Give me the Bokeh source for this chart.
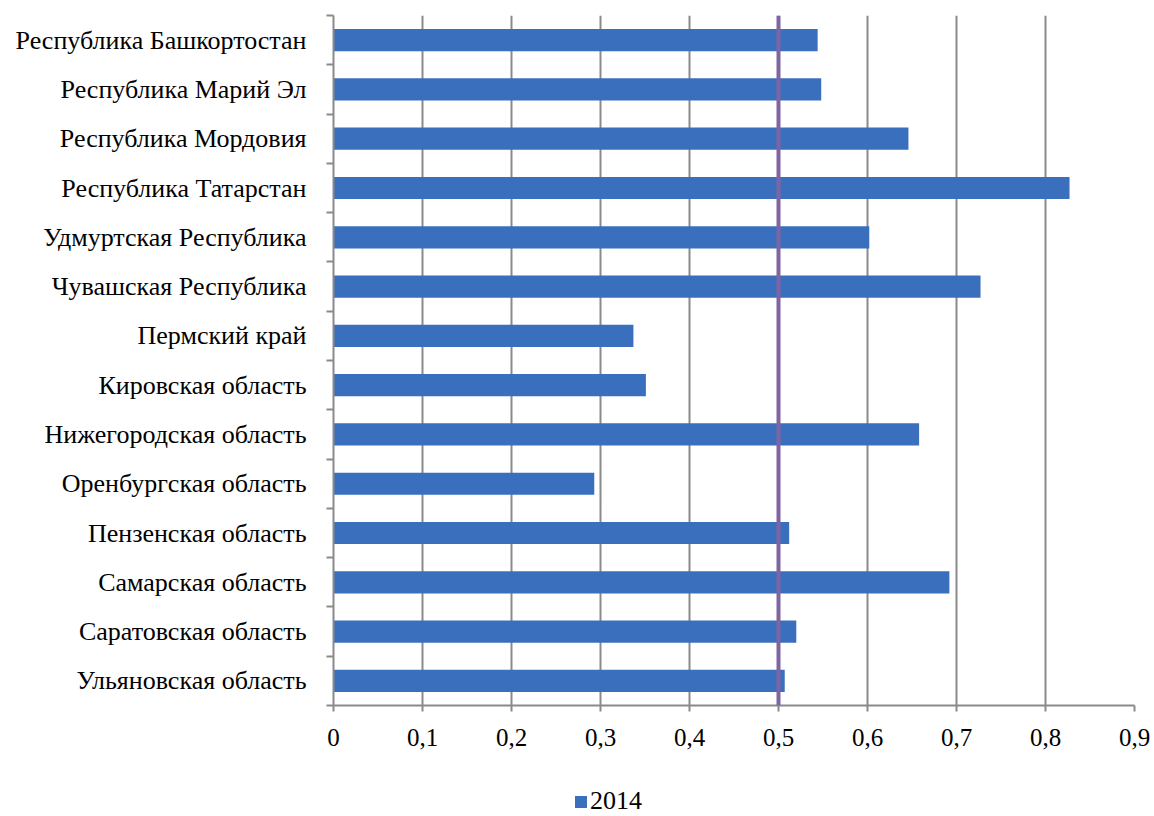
from bokeh.plotting import figure
from bokeh.layouts import column
from bokeh.models import (ColumnDataSource, FixedTicker, Span, Legend, LegendItem,
                          CustomJSTickFormatter)
from bokeh.embed import file_html
from bokeh.resources import INLINE

regions = [
    "Республика Башкортостан",
    "Республика Марий Эл",
    "Республика Мордовия",
    "Республика Татарстан",
    "Удмуртская Республика",
    "Чувашская Республика",
    "Пермский край",
    "Кировская область",
    "Нижегородская область",
    "Оренбургская область",
    "Пензенская область",
    "Самарская область",
    "Саратовская область",
    "Ульяновская область",
]
values_2014 = [0.544, 0.548, 0.646, 0.827, 0.602, 0.727, 0.337, 0.351,
               0.658, 0.293, 0.512, 0.692, 0.520, 0.507]
threshold = 0.5
x_ticks = [0, 0.1, 0.2, 0.3, 0.4, 0.5, 0.6, 0.7, 0.8, 0.9]
series_name = "2014"

n = len(regions)
ypos = [n - 1 - i for i in range(n)]
src = ColumnDataSource(dict(y=ypos, v=values_2014, name=regions))

FONT = "Liberation Serif"
GRAY = "#8a8a8a"
BLUE = "#3a6fbd"

p = figure(width=1154, height=760, output_backend="svg", toolbar_location=None,
           x_range=(0, 0.9), y_range=(-0.5, n - 0.5),
           min_border_left=333, min_border_right=20, min_border_top=15,
           min_border_bottom=55)
p.outline_line_color = None
p.background_fill_color = "white"

r = p.hbar(y="y", right="v", left=0, height=0.45, source=src,
           fill_color=BLUE, line_color=None)

p.add_layout(Span(location=threshold, dimension="height",
                  line_color="#8064a2", line_width=4))

# x axis
p.xaxis.ticker = FixedTicker(ticks=x_ticks)
p.xaxis.formatter = CustomJSTickFormatter(code="""
const s = (Math.round(tick*10)/10).toString();
return s.replace('.', ',');
""")
p.xaxis.axis_line_color = GRAY
p.xaxis.axis_line_width = 2
p.xaxis.major_tick_line_color = GRAY
p.xaxis.major_tick_line_width = 2
p.xaxis.major_tick_out = 6
p.xaxis.major_tick_in = 0
p.xaxis.minor_tick_line_color = None
p.xaxis.major_label_text_font = FONT
p.xaxis.major_label_text_font_size = "25px"
p.xaxis.major_label_text_color = "black"
p.xaxis.major_label_standoff = 17

# y axis
p.yaxis.ticker = FixedTicker(ticks=ypos, minor_ticks=[k - 0.5 for k in range(n + 1)])
p.yaxis.major_label_overrides = {y: nm for y, nm in zip(ypos, regions)}
p.yaxis.axis_line_color = GRAY
p.yaxis.axis_line_width = 2
p.yaxis.major_tick_line_color = None
p.yaxis.major_tick_out = 0
p.yaxis.major_tick_in = 0
p.yaxis.minor_tick_line_color = GRAY
p.yaxis.minor_tick_line_width = 2
p.yaxis.minor_tick_out = 7
p.yaxis.minor_tick_in = 0
p.yaxis.major_label_text_font = FONT
p.yaxis.major_label_text_font_size = "26px"
p.yaxis.major_label_text_color = "black"
p.yaxis.major_label_standoff = 20

p.xgrid.ticker = FixedTicker(ticks=x_ticks)
p.xgrid.grid_line_color = GRAY
p.xgrid.grid_line_width = 2
p.ygrid.grid_line_color = None

# legend strip below the chart
lg = figure(width=1154, height=56, output_backend="svg", toolbar_location=None,
            x_axis_location=None, y_axis_location=None,
            min_border_left=0, min_border_right=0, min_border_top=0,
            min_border_bottom=0, x_range=(0, 0.9), y_range=(-0.5, n - 0.5))
lg.outline_line_color = None
lg.xgrid.grid_line_color = None
lg.ygrid.grid_line_color = None
lr = lg.hbar(y="y", right="v", left=0, height=0.45, source=src,
             fill_color=BLUE, line_color=None, visible=False)
legend = Legend(items=[LegendItem(label=series_name, renderers=[lr])],
                location=(240, 0), orientation="horizontal",
                glyph_width=15, glyph_height=15, label_standoff=2,
                padding=0, margin=0, border_line_color=None,
                background_fill_alpha=0,
                label_text_font=FONT, label_text_font_size="26px",
                label_text_color="black")
lg.add_layout(legend, "center")

layout = column(p, lg, spacing=0)
open("out.html", "w").write(file_html(layout, INLINE))
